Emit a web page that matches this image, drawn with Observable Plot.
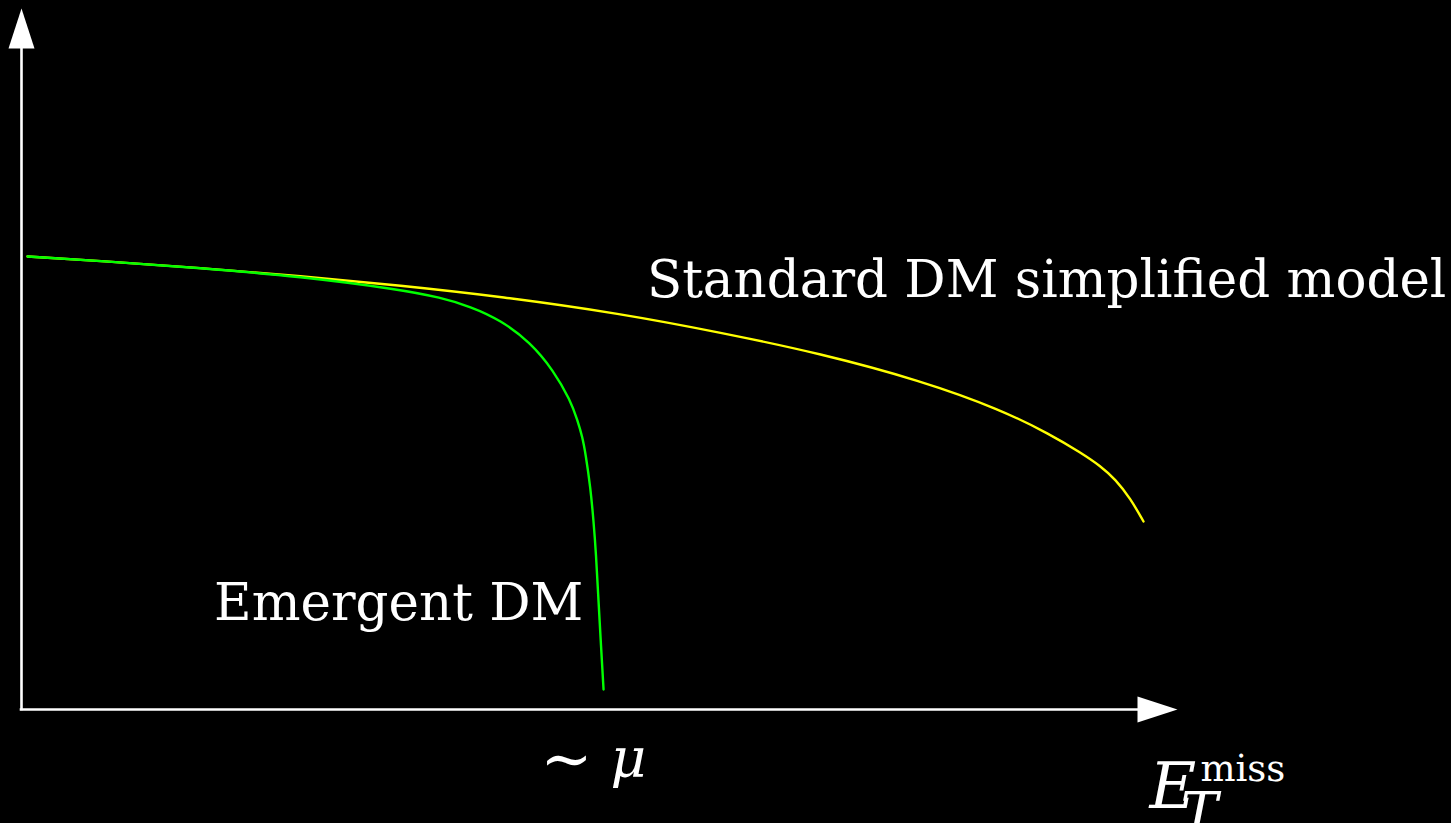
<!DOCTYPE html>
<html>
<head>
<meta charset="utf-8">
<script src="https://cdn.jsdelivr.net/npm/d3@7"></script>
<script src="https://cdn.jsdelivr.net/npm/@observablehq/plot@0.6"></script>
<style>
  html, body { margin: 0; padding: 0; background: #000; overflow: hidden; }
  #chart svg { display: block; }
</style>
</head>
<body>
<div id="chart"></div>
<script>
// Missing transverse energy spectra (arbitrary units) for the two scenarios.
const etStandard   = [0.052, 0.683, 1.548, 2.413, 3.279, 4.144, 5.182, 6.047, 6.912, 7.777, 8.469, 8.901, 9.161, 9.334, 9.464, 9.593, 9.706];
const rateStandard = [6.462, 6.398, 6.298, 6.184, 6.049, 5.892, 5.649, 5.378, 5.078, 4.693, 4.280, 3.923, 3.666, 3.474, 3.281, 3.010, 2.682];

const etEmergent   = [0.052, 0.683, 1.548, 2.413, 3.279, 3.625, 3.884, 4.144, 4.403, 4.602, 4.749, 4.810, 4.853, 4.879, 4.922, 4.948, 4.970, 4.991, 5.013, 5.035];
const rateEmergent = [6.462, 6.398, 6.298, 6.177, 5.991, 5.877, 5.749, 5.556, 5.235, 4.836, 4.408, 4.123, 3.880, 3.652, 3.167, 2.696, 2.225, 1.555, 0.913, 0.285];

// Curve labels and their anchor points (data units)
const curveNames   = ["Standard DM simplified model", "Emergent DM"];
const curveLabelX  = [5.41, 4.86];
const curveLabelY  = [5.88, 1.28];

// Axis annotations
const cutoffTilde = "∼";
const cutoffSymbol = "μ";
const cutoffAt = [4.49, -1.0];
const xAxisMain = "E", xAxisSub = "T", xAxisSup = "miss";
const xAxisAt = [9.757, -1.41];

// Axis extent (data units): origin to arrow tips
const axisMax = 10;

const serif = "DejaVu Serif";
const fs = 51.5;
const base = (size) => -0.32 * size; // shift so y is the text baseline

// Filled, elongated arrowhead with its tip at the mark's position, pointing right
const arrowHead = {
  draw(ctx) {
    ctx.moveTo(0, 0);
    ctx.lineTo(-40, -13);
    ctx.lineTo(-40, 13);
    ctx.closePath();
  }
};

const chart = Plot.plot({
  width: 1451,
  height: 823,
  margin: 0,
  style: { background: "#000", color: "#fff", overflow: "hidden" },
  x: { domain: [0, axisMax], range: [21, 1177], axis: null },
  y: { domain: [0, axisMax], range: [709, 8], axis: null },
  marks: [
    // axes
    Plot.ruleY([0], { x1: 0, x2: axisMax - 0.3, stroke: "#fff", strokeWidth: 2.6, strokeLinecap: "square" }),
    Plot.ruleX([0], { y1: 0, y2: axisMax - 0.5, stroke: "#fff", strokeWidth: 2.6, strokeLinecap: "square" }),
    Plot.dot([axisMax], { x: (d) => d, y: 0, symbol: arrowHead, fill: "#fff", stroke: null, rotate: 0 }),
    Plot.dot([axisMax], { x: 0, y: (d) => d, symbol: arrowHead, fill: "#fff", stroke: null, rotate: -90 }),

    // spectra
    Plot.line(rateStandard, { x: etStandard, y: rateStandard, stroke: "#ffff00", strokeWidth: 2.4, curve: "basis" }),
    Plot.line(rateEmergent, { x: etEmergent, y: rateEmergent, stroke: "#00ff00", strokeWidth: 2.4, curve: "basis" }),

    // curve labels
    Plot.text([0], { x: curveLabelX[0], y: curveLabelY[0], text: () => curveNames[0], textAnchor: "start",
      fontFamily: serif, fontSize: fs, fill: "#fff", dy: base(fs) }),
    Plot.text([0], { x: curveLabelX[1], y: curveLabelY[1], text: () => curveNames[1], textAnchor: "end",
      fontFamily: serif, fontSize: fs, fill: "#fff", dy: base(fs) }),

    // cutoff scale on the x axis
    Plot.text([0], { x: cutoffAt[0], y: cutoffAt[1], text: () => cutoffTilde, textAnchor: "start",
      fontFamily: serif, fontSize: 62, fill: "#fff", dy: base(62) }),
    Plot.text([0], { x: cutoffAt[0], y: cutoffAt[1], text: () => cutoffSymbol, textAnchor: "start",
      fontFamily: serif, fontStyle: "italic", fontSize: 55, fill: "#fff", dx: 70, dy: -3 + base(55) }),

    // x axis title: E_T^miss
    Plot.text([0], { x: xAxisAt[0], y: xAxisAt[1], text: () => xAxisMain, textAnchor: "start",
      fontFamily: serif, fontStyle: "italic", fontSize: 64, fill: "#fff", dy: base(64) }),
    Plot.text([0], { x: xAxisAt[0], y: xAxisAt[1], text: () => xAxisSub, textAnchor: "start",
      fontFamily: serif, fontStyle: "italic", fontSize: 56, fill: "#fff", dx: 31, dy: 24 + base(56) }),
    Plot.text([0], { x: xAxisAt[0], y: xAxisAt[1], text: () => xAxisSup, textAnchor: "start",
      fontFamily: serif, fontSize: 37, letterSpacing: 5.5, fill: "#fff", dx: 51, dy: -27 + base(37) })
  ]
});

document.getElementById("chart").appendChild(chart);
</script>
</body>
</html>
